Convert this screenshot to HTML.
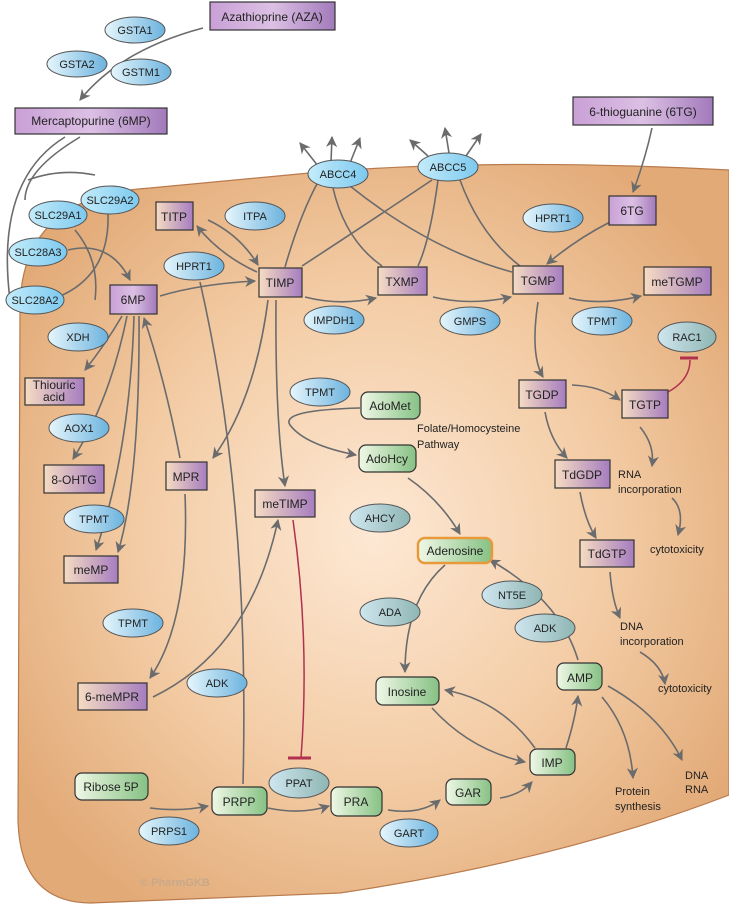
<!DOCTYPE html>
<html><head><meta charset="utf-8"><style>
body{margin:0;background:#fff}
svg{display:block}
text{font-family:"Liberation Sans",sans-serif;font-size:12px;fill:#222}
.e text,.e{font-size:11px}
.s{font-size:11px}
</style></head><body>
<svg width="729" height="909" viewBox="0 0 729 909" xmlns="http://www.w3.org/2000/svg">
<defs>
<radialGradient id="cell" cx="0.5" cy="0.5" r="0.6">
<stop offset="0" stop-color="#fde8d4"/><stop offset="0.55" stop-color="#f3cca5"/><stop offset="1" stop-color="#e2aa77"/></radialGradient>
<linearGradient id="pb" x1="0" x2="1"><stop offset="0" stop-color="#f6dcc2"/><stop offset="1" stop-color="#a67dbf"/></linearGradient>
<linearGradient id="ps" x1="0" x2="1"><stop offset="0" stop-color="#c9a0d6"/><stop offset="0.5" stop-color="#dcc0e4"/><stop offset="1" stop-color="#a27abb"/></linearGradient>
<linearGradient id="bl" x1="0" x2="1"><stop offset="0" stop-color="#e6f6fc"/><stop offset="1" stop-color="#6cb3de"/></linearGradient>
<linearGradient id="cy" x1="0" x2="1"><stop offset="0" stop-color="#c4ecfb"/><stop offset="1" stop-color="#7cc9ee"/></linearGradient>
<linearGradient id="gg" x1="0" x2="1"><stop offset="0" stop-color="#cfe6ef"/><stop offset="1" stop-color="#8fb6b4"/></linearGradient>
<linearGradient id="gr" x1="0" x2="1"><stop offset="0" stop-color="#f0f8e6"/><stop offset="1" stop-color="#86c184"/></linearGradient>
<marker id="a" viewBox="0 0 10 10" refX="9" refY="5" markerWidth="7" markerHeight="7" orient="auto"><path d="M0,0 L10,5 L0,10 L3,5z" fill="#6a6b6d"/></marker>
<marker id="b" viewBox="0 0 10 10" refX="1" refY="5" markerWidth="7" markerHeight="7" orient="auto"><path d="M10,0 L0,5 L10,10 L7,5z" fill="#6a6b6d"/></marker>
</defs>
<path d="M20,310 Q20,196 150,188 L320,172 Q500,158 729,170 L729,795 Q560,860 340,893 L90,903 Q20,902 18,820 Z" fill="url(#cell)" stroke="#b97a4c" stroke-width="1.2"/>
<g fill="none" stroke="#6a6b6d" stroke-width="1.6">
<path d="M203,28 Q120,50 80,100" marker-end="url(#a)"/>
<path d="M652,128 Q645,160 633,192" marker-end="url(#a)"/>
<path d="M65,137 Q-5,180 10,300"/><path d="M80,137 Q25,170 25,200"/><path d="M28,180 Q60,168 95,175"/>
<path d="M75,230 Q100,260 95,300"/><path d="M108,214 Q110,280 50,300"/>
<path d="M68,250 Q110,240 130,280" marker-end="url(#a)"/>
<path d="M160,296 Q200,284 255,281" marker-end="url(#a)"/>
<path d="M257,272 Q220,255 197,226" marker-end="url(#a)"/>
<path d="M208,220 Q240,235 258,265" marker-end="url(#a)"/>
<path d="M200,282 Q250,500 243,784"/>
<path d="M285,267 Q300,215 318,182"/><path d="M333,188 Q345,240 382,266"/><path d="M350,186 Q430,250 512,272"/>
<path d="M302,266 Q380,215 432,180"/><path d="M438,180 Q430,240 418,266"/><path d="M460,180 Q480,235 520,266"/>
<path d="M318,166 L300,143" marker-end="url(#a)"/><path d="M331,162 L332,137" marker-end="url(#a)"/><path d="M350,163 L360,138" marker-end="url(#a)"/>
<path d="M428,156 L410,140" marker-end="url(#a)"/><path d="M449,153 L445,128" marker-end="url(#a)"/><path d="M466,156 L481,134" marker-end="url(#a)"/>
<path d="M305,297 Q340,306 376,298" marker-end="url(#a)"/>
<path d="M433,297 Q470,306 511,297" marker-end="url(#a)"/>
<path d="M569,298 Q600,306 641,296" marker-end="url(#a)"/>
<path d="M610,222 Q575,240 547,264" marker-end="url(#a)"/>
<path d="M538,302 Q530,355 543,377" marker-end="url(#a)"/>
<path d="M572,385 Q600,386 620,400" marker-end="url(#a)"/>
<path d="M545,412 Q550,440 567,458" marker-end="url(#a)"/>
<path d="M580,492 Q585,520 596,538" marker-end="url(#a)"/>
<path d="M640,427 Q655,445 652,466" marker-end="url(#a)"/>
<path d="M672,498 Q685,510 678,535" marker-end="url(#a)"/>
<path d="M610,572 Q612,600 620,618" marker-end="url(#a)"/>
<path d="M640,652 Q662,665 665,684" marker-end="url(#a)"/>
<path d="M268,300 Q255,400 213,458" marker-end="url(#a)"/>
<path d="M276,300 Q275,420 285,486" marker-end="url(#a)"/>
<path d="M122,316 Q105,345 85,370" marker-end="url(#a)"/>
<path d="M127,316 Q110,400 73,459" marker-end="url(#a)"/>
<path d="M134,316 Q130,450 96,550" marker-end="url(#a)"/>
<path d="M139,316 Q140,480 118,552" marker-end="url(#a)"/>
<path d="M180,458 Q165,380 144,318" marker-end="url(#a)"/>
<path d="M185,494 Q190,620 150,678" marker-end="url(#a)"/>
<path d="M153,697 Q250,650 278,520" marker-end="url(#a)"/>
<path d="M360,408 Q280,410 290,425 Q305,445 356,455" marker-end="url(#a)"/>
<path d="M408,478 Q440,500 460,534" marker-end="url(#a)"/>
<path d="M445,565 Q405,600 405,672" marker-end="url(#a)"/>
<path d="M578,660 Q560,600 490,560" marker-end="url(#a)"/>
<path d="M535,748 Q500,700 445,690" marker-end="url(#a)"/>
<path d="M432,708 Q470,750 525,762" marker-end="url(#a)"/>
<path d="M566,748 Q575,720 578,696" marker-end="url(#a)"/>
<path d="M608,686 Q660,715 682,760" marker-end="url(#a)"/>
<path d="M602,697 Q630,730 633,778" marker-end="url(#a)"/>
<path d="M150,808 Q180,812 208,806" marker-end="url(#a)"/>
<path d="M268,808 Q300,815 329,806" marker-end="url(#a)"/>
<path d="M388,810 Q420,815 440,800" marker-end="url(#a)"/>
<path d="M500,798 Q520,795 532,782" marker-end="url(#a)"/>
</g>
<path d="M293,520 Q310,640 301,758" fill="none" stroke="#b0314f" stroke-width="1.5"/><path d="M288,758 L311,758" stroke="#b0314f" stroke-width="3"/>
<path d="M668,392 Q690,380 690,360" fill="none" stroke="#b0314f" stroke-width="1.5"/><path d="M680,358 L698,358" stroke="#b0314f" stroke-width="3"/>
<g stroke="#333" stroke-width="1.2">
<rect x="210" y="2" width="125" height="28" fill="url(#ps)"/>
<rect x="15" y="108" width="152" height="26" fill="url(#ps)"/>
<rect x="573" y="97" width="140" height="28" fill="url(#ps)"/>
<rect x="110" y="285" width="47" height="29" fill="url(#ps)"/>
<rect x="609" y="196" width="47" height="29" fill="url(#ps)"/>
<rect x="156" y="202" width="37" height="28" fill="url(#pb)"/>
<rect x="259" y="268" width="43" height="29" fill="url(#pb)"/>
<rect x="378" y="267" width="49" height="28" fill="url(#pb)"/>
<rect x="513" y="266" width="50" height="28" fill="url(#pb)"/>
<rect x="644" y="267" width="67" height="28" fill="url(#pb)"/>
<rect x="25" y="378" width="59" height="27" fill="url(#pb)"/>
<rect x="44" y="465" width="60" height="28" fill="url(#pb)"/>
<rect x="64" y="556" width="54" height="27" fill="url(#pb)"/>
<rect x="78" y="683" width="69" height="27" fill="url(#pb)"/>
<rect x="166" y="462" width="41" height="28" fill="url(#pb)"/>
<rect x="255" y="490" width="60" height="27" fill="url(#pb)"/>
<rect x="519" y="380" width="47" height="28" fill="url(#pb)"/>
<rect x="622" y="390" width="46" height="28" fill="url(#pb)"/>
<rect x="555" y="460" width="55" height="28" fill="url(#pb)"/>
<rect x="580" y="540" width="54" height="27" fill="url(#pb)"/>
<rect x="361" y="392" width="59" height="27" rx="7" fill="url(#gr)"/>
<rect x="359" y="445" width="57" height="27" rx="7" fill="url(#gr)"/>
<rect x="418" y="538" width="74" height="25" rx="7" fill="url(#gr)" stroke="#e89a3a" stroke-width="2.5"/>
<rect x="376" y="677" width="63" height="28" rx="7" fill="url(#gr)"/>
<rect x="557" y="663" width="45" height="27" rx="7" fill="url(#gr)"/>
<rect x="530" y="749" width="45" height="26" rx="7" fill="url(#gr)"/>
<rect x="446" y="779" width="45" height="26" rx="7" fill="url(#gr)"/>
<rect x="331" y="787" width="51" height="29" rx="7" fill="url(#gr)"/>
<rect x="212" y="787" width="55" height="28" rx="7" fill="url(#gr)"/>
<rect x="75" y="773" width="73" height="27" rx="7" fill="url(#gr)"/>
</g>
<g stroke="#555" stroke-width="1">
<ellipse cx="135" cy="30" rx="30" ry="13" fill="url(#bl)"/>
<ellipse cx="77" cy="64" rx="30" ry="13" fill="url(#bl)"/>
<ellipse cx="141" cy="72" rx="30" ry="13" fill="url(#bl)"/>
<ellipse cx="338" cy="174" rx="30" ry="14" fill="url(#cy)"/>
<ellipse cx="448" cy="167" rx="30" ry="14" fill="url(#cy)"/>
<ellipse cx="110" cy="200" rx="29" ry="14" fill="url(#cy)"/>
<ellipse cx="58" cy="215" rx="29" ry="14" fill="url(#cy)"/>
<ellipse cx="38" cy="252" rx="29" ry="14" fill="url(#cy)"/>
<ellipse cx="35" cy="300" rx="29" ry="14" fill="url(#cy)"/>
<ellipse cx="255" cy="216" rx="30" ry="14" fill="url(#bl)"/>
<ellipse cx="194" cy="266" rx="30" ry="14" fill="url(#bl)"/>
<ellipse cx="553" cy="218" rx="30" ry="14" fill="url(#bl)"/>
<ellipse cx="334" cy="320" rx="30" ry="14" fill="url(#bl)"/>
<ellipse cx="470" cy="321" rx="30" ry="14" fill="url(#bl)"/>
<ellipse cx="602" cy="321" rx="30" ry="14" fill="url(#bl)"/>
<ellipse cx="687" cy="337" rx="29" ry="15" fill="url(#gg)"/>
<ellipse cx="78" cy="337" rx="30" ry="14" fill="url(#bl)"/>
<ellipse cx="79" cy="428" rx="30" ry="14" fill="url(#bl)"/>
<ellipse cx="94" cy="519" rx="30" ry="14" fill="url(#bl)"/>
<ellipse cx="133" cy="623" rx="30" ry="14" fill="url(#bl)"/>
<ellipse cx="217" cy="683" rx="30" ry="14" fill="url(#bl)"/>
<ellipse cx="320" cy="392" rx="30" ry="14" fill="url(#bl)"/>
<ellipse cx="380" cy="518" rx="30" ry="14" fill="url(#gg)"/>
<ellipse cx="390" cy="612" rx="30" ry="14" fill="url(#gg)"/>
<ellipse cx="512" cy="595" rx="30" ry="14" fill="url(#gg)"/>
<ellipse cx="545" cy="628" rx="30" ry="14" fill="url(#gg)"/>
<ellipse cx="299" cy="783" rx="30" ry="15" fill="url(#gg)"/>
<ellipse cx="169" cy="831" rx="30" ry="14" fill="url(#bl)"/>
<ellipse cx="409" cy="833" rx="29" ry="14" fill="url(#bl)"/>
</g>
<g text-anchor="middle">
<text x="272" y="21">Azathioprine (AZA)</text><text x="91" y="125">Mercaptopurine (6MP)</text><text x="643" y="116">6-thioguanine (6TG)</text>
<text x="133" y="304">6MP</text><text x="632" y="215">6TG</text><text x="174" y="221">TITP</text><text x="280" y="287">TIMP</text>
<text x="402" y="286">TXMP</text><text x="538" y="285">TGMP</text><text x="677" y="286">meTGMP</text>
<text x="54" y="389">Thiouric</text><text x="54" y="401">acid</text><text x="74" y="484">8-OHTG</text><text x="91" y="574">meMP</text>
<text x="112" y="701">6-meMPR</text><text x="186" y="481">MPR</text><text x="285" y="508">meTIMP</text>
<text x="542" y="399">TGDP</text><text x="645" y="409">TGTP</text><text x="582" y="479">TdGDP</text><text x="607" y="558">TdGTP</text>
<text x="390" y="410">AdoMet</text><text x="387" y="463">AdoHcy</text><text x="455" y="555">Adenosine</text>
<text x="407" y="696">Inosine</text><text x="580" y="682">AMP</text><text x="552" y="767">IMP</text><text x="468" y="797">GAR</text>
<text x="356" y="806">PRA</text><text x="239" y="806">PRPP</text><text x="111" y="791">Ribose 5P</text>
</g>
<g text-anchor="middle" class="e">
<text x="135" y="34" class="s">GSTA1</text><text x="77" y="68" class="s">GSTA2</text><text x="141" y="76" class="s">GSTM1</text>
<text x="338" y="178" class="s">ABCC4</text><text x="448" y="171" class="s">ABCC5</text>
<text x="110" y="204" class="s">SLC29A2</text><text x="58" y="219" class="s">SLC29A1</text><text x="38" y="256" class="s">SLC28A3</text><text x="35" y="304" class="s">SLC28A2</text>
<text x="255" y="220" class="s">ITPA</text><text x="194" y="270" class="s">HPRT1</text><text x="553" y="222" class="s">HPRT1</text>
<text x="334" y="324" class="s">IMPDH1</text><text x="470" y="325" class="s">GMPS</text><text x="602" y="325" class="s">TPMT</text><text x="687" y="341" class="s">RAC1</text>
<text x="78" y="341" class="s">XDH</text><text x="79" y="432" class="s">AOX1</text><text x="94" y="523" class="s">TPMT</text><text x="133" y="627" class="s">TPMT</text>
<text x="217" y="687" class="s">ADK</text><text x="320" y="396" class="s">TPMT</text><text x="380" y="522" class="s">AHCY</text>
<text x="390" y="616" class="s">ADA</text><text x="512" y="599" class="s">NT5E</text><text x="545" y="632" class="s">ADK</text>
<text x="299" y="787" class="s">PPAT</text><text x="169" y="835" class="s">PRPS1</text><text x="409" y="837" class="s">GART</text>
</g>
<g>
<text x="417" y="432" class="s">Folate/Homocysteine</text><text x="417" y="448" class="s">Pathway</text>
<text x="618" y="478" class="s">RNA</text><text x="618" y="493" class="s">incorporation</text><text x="650" y="553" class="s">cytotoxicity</text>
<text x="620" y="630" class="s">DNA</text><text x="620" y="645" class="s">incorporation</text><text x="658" y="692" class="s">cytotoxicity</text>
<text x="615" y="795" class="s">Protein</text><text x="615" y="810" class="s">synthesis</text>
<text x="685" y="779" class="s">DNA</text><text x="685" y="793" class="s">RNA</text>
<text x="140" y="886" style="font-size:11px;fill:#c8a88a;font-weight:bold">© PharmGKB</text>
</g>
</svg>
</body></html>
